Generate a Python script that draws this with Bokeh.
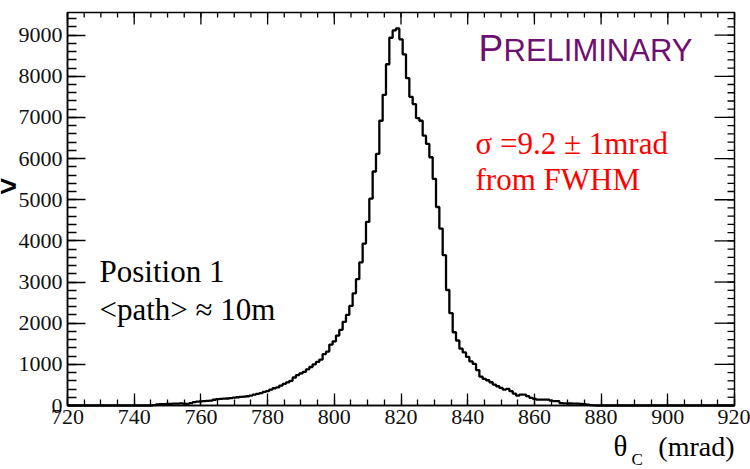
from bokeh.plotting import figure
from bokeh.models import Label, LinearAxis, SingleIntervalTicker, Range1d
from bokeh.embed import file_html
from bokeh.resources import INLINE

# ---- data: histogram of theta_C (1 mrad bins, centres at integer mrad) ----
first_centre = 720
counts_lead_zeros = [0] * 26          # 720 .. 745
counts_main = [
    10, 25, 35, 35, 40, 40, 45, 45, 50, 45,            # 746-755
    40, 60, 80, 95, 100, 105, 110, 120, 140, 155,      # 756-765
    160, 165, 170, 180, 190, 200, 210, 215, 225, 242,  # 766-775
    262, 283, 300, 330, 350, 387, 419, 440, 484, 525,  # 776-785
    560, 600, 680, 740, 780, 815, 880, 935, 1000, 1060,  # 786-795
    1115, 1250, 1310, 1480, 1560, 1700, 1840, 2030, 2200, 2420,  # 796-805
    2727, 3070, 3480, 3936, 4460, 5025, 5686, 6114, 6920, 7549,  # 806-815
    8292, 8936, 9114, 9163, 8897, 8534, 7953, 7500, 7324, 6985,  # 816-825
    6920, 6557, 6356, 6032, 5509, 4823, 4299, 3654, 2807, 2243,  # 826-835
    1780, 1580, 1380, 1290, 1180, 1070, 1010, 860, 700, 646,     # 836-845
    613, 565, 508, 468, 428, 387, 404, 347, 290, 242,            # 846-855
    266, 266, 226, 186, 162, 145, 145, 145, 145, 120,            # 856-865
    105, 105, 60, 50, 48, 48, 45, 45, 40, 35,                    # 866-875
    20, 10, 5, 0,                                                # 876-879
]
counts_tail_zeros = [0] * 41          # 880 .. 920
counts = counts_lead_zeros + counts_main + counts_tail_zeros
centres = [first_centre + i for i in range(len(counts))]

x_major_ticks = list(range(720, 921, 20))
x_minor_ticks = list(range(720, 921, 5))
y_major_ticks = list(range(0, 9551, 1000))
y_minor_ticks = list(range(0, 9551, 200))

# histogram frame (data) and where it sits on the 750x469 canvas (pixels)
X0, X1 = 720, 920
Y0, Y1 = 0, 9550
W, H = 750, 469
FL, FR, FT, FB = 67, 734, 12, 405

sx = (X1 - X0) / (FR - FL)      # data per pixel
sy = (Y1 - Y0) / (FB - FT)

def px2x(px):
    return X0 + (px - FL) * sx

def py2y(py):
    return Y0 + (FB - py) * sy

p = figure(width=W, height=H,
           x_range=Range1d(px2x(0), px2x(W)), y_range=Range1d(py2y(H), py2y(0)),
           x_axis_type=None, y_axis_type=None,
           output_backend="svg", toolbar_location=None,
           min_border=0, min_border_left=0, min_border_right=0,
           min_border_top=0, min_border_bottom=0)
p.grid.visible = False
p.background_fill_color = "white"
p.border_fill_color = "white"
p.outline_line_color = None

serif = "Liberation Serif"

def style_axis(ax, tick_in, minor_in, size):
    ax.axis_line_color = "black"
    ax.axis_line_width = 1.5
    ax.major_tick_in = tick_in
    ax.major_tick_out = 0
    ax.minor_tick_in = minor_in
    ax.minor_tick_out = 0
    ax.major_tick_line_color = "black"
    ax.minor_tick_line_color = "black"
    ax.major_tick_line_width = 1.3
    ax.minor_tick_line_width = 1.3
    ax.major_label_text_font = serif
    ax.major_label_text_color = "#111111"
    ax.major_label_text_font_size = size

xaxis = LinearAxis(fixed_location=Y0, bounds=(X0, X1),
                   ticker=SingleIntervalTicker(interval=20, num_minor_ticks=4))
style_axis(xaxis, 12, 6, "22px")
xaxis.major_label_standoff = 4
p.add_layout(xaxis, "below")

yaxis = LinearAxis(fixed_location=X0, bounds=(Y0, Y1),
                   ticker=SingleIntervalTicker(interval=1000, num_minor_ticks=5))
style_axis(yaxis, 18, 9, "22px")
yaxis.major_label_standoff = 5
p.add_layout(yaxis, "left")

# frame box
p.quad(left=[X0], right=[X1], bottom=[Y0], top=[Y1], fill_color=None,
       line_color="black", line_width=1.5)

# opposite-side ticks (top and right), pointing into the frame
tick_kw = dict(line_color="black", line_width=1.3)
p.segment(x0=x_major_ticks, y0=[Y1] * len(x_major_ticks),
          x1=x_major_ticks, y1=[Y1 - 12 * sy] * len(x_major_ticks), **tick_kw)
p.segment(x0=x_minor_ticks, y0=[Y1] * len(x_minor_ticks),
          x1=x_minor_ticks, y1=[Y1 - 5 * sy] * len(x_minor_ticks), **tick_kw)
p.segment(x0=[X1] * len(y_major_ticks), y0=y_major_ticks,
          x1=[X1 - 20 * sx] * len(y_major_ticks), y1=y_major_ticks, **tick_kw)
p.segment(x0=[X1] * len(y_minor_ticks), y0=y_minor_ticks,
          x1=[X1 - 7 * sx] * len(y_minor_ticks), y1=y_minor_ticks, **tick_kw)

p.step(x=centres, y=counts, mode="center", line_color="black", line_width=2.3)

def lab(text, px, baseline_py, size, color="black", font=serif, align="left", style="normal"):
    py = baseline_py - 0.39 * size   # empirical baseline correction
    p.add_layout(Label(x=px2x(px), y=py2y(py), text=text, text_font=font,
                       text_font_size=f"{size}px", text_color=color,
                       text_align=align, text_baseline="alphabetic",
                       text_font_style=style))

purple = "#6E0F72"
lab("P", 478, 62, 37, purple, "Liberation Sans")
lab("RELIMINARY", 503, 62, 31, purple, "Liberation Sans")

lab("σ =9.2 ± 1mrad", 475, 155, 31, "#FF0000")
lab("from FWHM", 475, 191, 31, "#FF0000")

lab("Position 1", 99, 283, 31)
lab("<path> ≈ 10m", 99, 321, 31)

lab("θ", 613, 457, 29)
lab("C", 631, 466, 17)
lab("(mrad)", 734, 457, 28, align="right")

lab(">", -1, 197, 30, "black", "Liberation Sans", style="bold")

open("out.html", "w").write(file_html(p, INLINE))
